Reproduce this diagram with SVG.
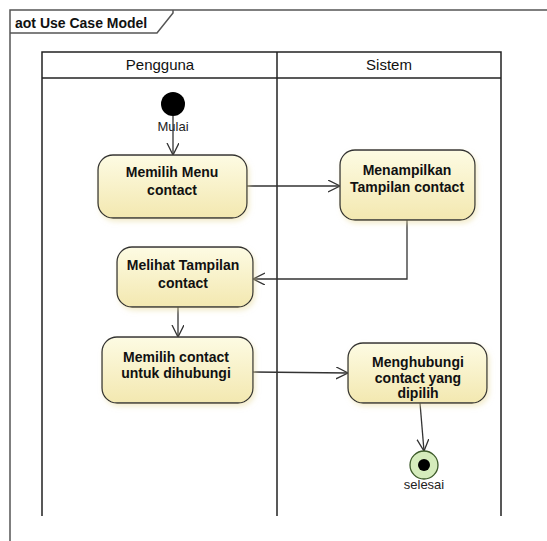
<svg xmlns="http://www.w3.org/2000/svg" width="547" height="541" viewBox="0 0 547 541">
<style>
.frame{fill:none;stroke:#555;stroke-width:1.5}
.lane{fill:none;stroke:#222;stroke-width:1.5}
.act{fill:url(#g);stroke:#333;stroke-width:1.3;filter:url(#sh)}
.t{font-family:"Liberation Sans",Arial,sans-serif;font-size:14px;font-weight:bold;fill:#111;text-anchor:middle}
.h{font-family:"Liberation Sans",Arial,sans-serif;font-size:15px;fill:#111;text-anchor:middle}
.l{font-family:"Liberation Sans",Arial,sans-serif;font-size:13px;fill:#222;text-anchor:middle}
.c{fill:none;stroke:#333;stroke-width:1.3;marker-end:url(#ar)}
</style>
<defs>
<linearGradient id="g" x1="0" y1="0" x2="0" y2="1">
<stop offset="0" stop-color="#fdfbe3"/>
<stop offset="1" stop-color="#f3e8b0"/>
</linearGradient>
<filter id="sh" x="-10%" y="-10%" width="130%" height="140%">
<feDropShadow dx="2" dy="3" stdDeviation="2.5" flood-color="#e8dca0" flood-opacity="0.5"/>
</filter>
<marker id="ar" markerWidth="14" markerHeight="14" refX="12" refY="6" orient="auto" markerUnits="userSpaceOnUse">
<polyline points="0,0 12,6 0,12" fill="none" stroke="#333" stroke-width="1.3"/>
</marker>
</defs>
<rect width="547" height="541" fill="#fff"/>
<g id="frame">
<polyline class="frame" points="10,541 10,10 547,10"/>
<polyline class="frame" points="10,33 157,33 173,13 173,10"/>
<text x="15" y="28" font-family="'Liberation Sans',Arial,sans-serif" font-size="14" font-weight="bold" fill="#111">aot Use Case Model</text>
</g>
<g id="lanes">
<polyline class="lane" points="42,516 42,52 501,52 501,516"/>
<line class="lane" x1="277" y1="52" x2="277" y2="516"/>
<line class="lane" x1="42" y1="78" x2="501" y2="78"/>
<text class="h" x="160" y="70">Pengguna</text>
<text class="h" x="389" y="70">Sistem</text>
</g>
<g id="connectors">
<line class="c" x1="173" y1="116" x2="173" y2="155"/>
<line class="c" x1="247" y1="186" x2="340" y2="186"/>
<polyline class="c" points="407,220 407,279 253,279"/>
<line class="c" x1="178" y1="307" x2="178" y2="337"/>
<line class="c" x1="253" y1="372" x2="348" y2="373"/>
<line class="c" x1="420" y1="403" x2="424" y2="451"/>
</g>
<g id="start">
<circle cx="173" cy="104" r="12" fill="#000"/>
<text class="l" x="173" y="131">Mulai</text>
</g>
<g id="memilih-menu">
<rect class="act" x="98" y="155" width="149" height="63" rx="15"/>
<text class="t" x="172" y="177">Memilih Menu</text>
<text class="t" x="172" y="195">contact</text>
</g>
<g id="menampilkan">
<rect class="act" x="340" y="150" width="135" height="70" rx="15"/>
<text class="t" x="407" y="175">Menampilkan</text>
<text class="t" x="407" y="192">Tampilan contact</text>
</g>
<g id="melihat">
<rect class="act" x="117" y="247" width="136" height="60" rx="15"/>
<text class="t" x="183" y="270">Melihat Tampilan</text>
<text class="t" x="183" y="288">contact</text>
</g>
<g id="memilih-contact">
<rect class="act" x="102" y="337" width="151" height="66" rx="15"/>
<text class="t" x="176" y="362">Memilih contact</text>
<text class="t" x="176" y="378">untuk dihubungi</text>
</g>
<g id="menghubungi">
<rect class="act" x="348" y="343" width="139" height="60" rx="15"/>
<text class="t" x="418" y="367">Menghubungi</text>
<text class="t" x="418" y="383">contact yang</text>
<text class="t" x="418" y="398">dipilih</text>
</g>
<g id="end">
<circle cx="424" cy="465" r="14" fill="#d5ecbc" stroke="#3c5a2a" stroke-width="1.3"/>
<circle cx="424" cy="465" r="6" fill="#000"/>
<text class="l" x="424" y="489">selesai</text>
</g>
</svg>
